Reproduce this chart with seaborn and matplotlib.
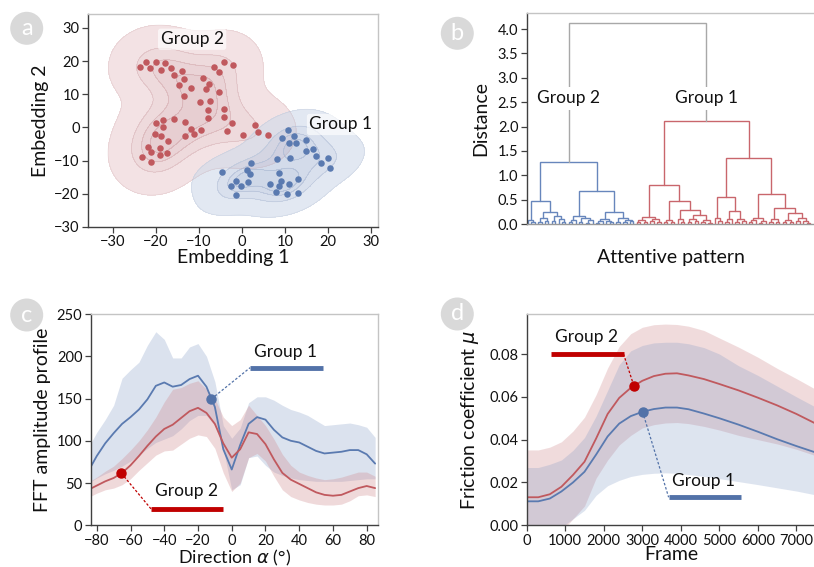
import numpy as np
import pandas as pd
import matplotlib
matplotlib.use("Agg")
import matplotlib.pyplot as plt
import seaborn as sns
from matplotlib.patches import Ellipse
from matplotlib.colors import LinearSegmentedColormap

# ---------------- data: panel a (embedding) ----------------
g2_x = [-23.8, -22.3, -21.3, -20.0, -18.8, -17.9, -16.4, -15.8, -14.7, -14.0, -13.6, -11.9, -9.0,
        -8.4, -7.6, -6.5, -5.4, -4.2, -2.1, -5.4, -13.6, -9.7, -7.5, -8.0, -7.8, -4.3, -4.3, -13.2,
        -15.8, -18.3, -19.9, -18.3, -20.3, -18.8, -17.2, -13.3, -11.8, -11.1, -9.6, -2.4, -3.4, 0.2,
        2.9, 3.6, 6.0, -21.9, -21.1, -19.0, -19.0, -17.5, -23.2, -21.1]
g2_y = [18.3, 19.6, 17.8, 19.8, 17.3, 19.4, 17.8, 15.7, 12.8, 17.0, 14.7, 12.0, 14.8,
        11.5, 13.0, 18.3, 16.7, 19.6, 18.8, 10.6, 9.4, 7.6, 8.1, 5.4, 2.8, 5.6, 3.1, 1.7,
        2.5, 2.4, 1.2, 0.0, -2.1, -2.7, -4.0, -2.5, -0.4, -2.0, -0.7, 1.2, -1.1, -2.2,
        0.7, -1.5, -2.2, -5.8, -7.5, -6.1, -8.4, -7.8, -8.8, -10.5]
g1_x = [10.7, 12.1, 9.3, 10.9, 12.6, 14.9, 16.4, 14.8, 17.3, 11.2, 8.1, 18.4, 20.0, 20.5, 2.1,
        -4.7, 1.2, 1.9, -1.4, -2.6, -0.2, 1.5, -1.3, 8.5, 9.1, 6.4, 8.6, 7.8, 10.9, 12.9, 10.5, 12.9]
g1_y = [-0.8, -2.6, -3.3, -4.8, -4.8, -3.8, -6.6, -7.2, -8.5, -9.1, -9.4, -10.8, -9.1, -12.2, -10.8,
        -13.5, -12.9, -14.0, -16.0, -17.5, -17.7, -16.5, -20.4, -13.7, -16.0, -17.0, -17.5, -19.3,
        -16.9, -15.5, -20.0, -19.8]

# ---------------- data: panel b (dendrogram, [height, left, right], 0 = leaf) ----------------
blue_tree = [1.27,
             [0.47,
              [0.08, 0, [0.04, 0, 0]],
              [0.25, [0.12, [0.05, 0, 0], [0.07, 0, 0]],
                     [0.17, [0.06, 0, 0], [0.10, 0, [0.04, 0, 0]]]]],
             [0.68,
              [0.16, [0.09, [0.04, 0, 0], 0], [0.12, [0.05, 0, 0], [0.08, [0.03, 0, 0], 0]]],
              [0.25, [0.10, [0.06, [0.03, 0, 0], 0], [0.07, 0, [0.04, 0, 0]]],
                     [0.12, [0.05, 0, 0], [0.09, [0.04, 0, 0], [0.06, 0, 0]]]]]]
red_tree = [2.12,
            [0.80,
             [0.15, [0.08, [0.04, 0, 0], [0.05, 0, 0]], [0.10, [0.06, 0, 0], [0.04, 0, 0]]],
             [0.47,
              [0.08, [0.04, 0, 0], [0.05, 0, 0]],
              [0.29, [0.10, 0, [0.05, 0, 0]],
                     [0.18, [0.10, [0.04, 0, 0], [0.06, 0, 0]], [0.08, [0.05, 0, 0], [0.03, 0, 0]]]]]],
            [1.35,
             [0.55, [0.13, 0, [0.06, 0, 0]],
                    [0.26, [0.10, [0.05, 0, 0], 0], [0.10, [0.04, 0, 0], [0.06, 0, 0]]]],
             [0.62, [0.12, [0.08, [0.04, 0, 0], 0], [0.06, [0.03, 0, 0], 0]],
                    [0.33, [0.10, [0.05, 0, 0], [0.04, 0, 0]],
                           [0.22, [0.08, [0.04, 0, 0], [0.05, 0, 0]],
                                  [0.12, [0.06, 0, 0], [0.07, 0, [0.03, 0, 0]]]]]]]]
root_height = 4.13

# ---------------- data: panel c (FFT amplitude) ----------------
direction = [-85, -80, -75, -70, -65, -60, -55, -50, -45, -40, -35, -30, -25, -20, -15, -10, -5, 0,
             5, 10, 15, 20, 25, 30, 35, 40, 45, 50, 55, 60, 65, 70, 75, 80, 85]
c_g1_mean = [64, 82, 97, 109, 120, 128, 137, 149, 165, 169, 164, 166, 173, 177, 164, 140, 90, 66,
             95, 120, 128, 125, 113, 104, 100, 98, 93, 88, 85, 86, 87, 89, 89, 84, 73]
c_g1_hi = [92, 110, 125, 142, 174, 184, 193, 213, 229, 220, 198, 198, 211, 215, 200, 170, 118, 103,
           115, 145, 152, 152, 148, 142, 137, 134, 130, 124, 118, 119, 120, 121, 119, 116, 104]
c_g1_lo = [50, 56, 61, 65, 70, 76, 83, 91, 98, 102, 106, 114, 124, 130, 130, 118, 90, 42,
           48, 80, 82, 71, 63, 59, 56, 54, 53, 52, 52, 52, 52, 53, 54, 55, 55]
c_g2_mean = [42, 47, 52, 56, 62, 71, 82, 94, 105, 114, 119, 127, 135, 139, 133, 120, 97, 80,
             90, 110, 108, 96, 78, 62, 54, 49, 44, 39, 36, 35, 36, 40, 44, 46.5, 44]
c_g2_hi = [51, 57, 64, 70, 79, 89, 100, 113, 128, 146, 161, 163, 168, 171, 161, 150, 128, 118,
           125, 142, 130, 118, 102, 84, 71, 63, 59, 56, 54, 55, 57, 60, 63, 63, 58]
c_g2_lo = [33, 38, 42, 44, 48, 55, 65, 74, 83, 88, 89, 96, 103, 107, 105, 91, 62, 40,
           50, 80, 85, 76, 58, 42, 34, 30, 27, 25, 24, 24, 25, 29, 35, 36, 34]

# ---------------- data: panel d (friction) ----------------
frame = [0, 300, 600, 900, 1200, 1500, 1800, 2100, 2400, 2700, 3000, 3300, 3600, 3900, 4200,
         4600, 5000, 5500, 6000, 6500, 7000, 7500]
d_g2_mean = [0.0131, 0.0131, 0.0145, 0.0180, 0.0235, 0.0297, 0.0405, 0.0520, 0.0595, 0.0642, 0.0675,
             0.0697, 0.0708, 0.0710, 0.0700, 0.0683, 0.0660, 0.0630, 0.0596, 0.0560, 0.0520, 0.0475]
d_g2_hi = [0.0352, 0.0352, 0.0365, 0.0390, 0.0440, 0.0505, 0.0610, 0.0735, 0.0835, 0.0895, 0.0925,
           0.0937, 0.0940, 0.0938, 0.0930, 0.0910, 0.0875, 0.0832, 0.0785, 0.0733, 0.0685, 0.0635]
d_g2_lo = [-0.0090, -0.0090, -0.0075, -0.0030, 0.0030, 0.0090, 0.0220, 0.0305, 0.0375, 0.0420, 0.0455,
           0.0470, 0.0478, 0.0480, 0.0475, 0.0462, 0.0445, 0.0420, 0.0400, 0.0380, 0.0355, 0.0325]
d_g1_mean = [0.0112, 0.0112, 0.0125, 0.0158, 0.0200, 0.0250, 0.0330, 0.0415, 0.0475, 0.0510, 0.0530,
             0.0543, 0.0550, 0.0550, 0.0542, 0.0522, 0.0500, 0.0470, 0.0437, 0.0402, 0.0370, 0.0340]
d_g1_hi = [0.0270, 0.0270, 0.0285, 0.0305, 0.0350, 0.0410, 0.0510, 0.0630, 0.0750, 0.0815, 0.0840,
           0.0852, 0.0855, 0.0855, 0.0848, 0.0830, 0.0800, 0.0745, 0.0700, 0.0650, 0.0600, 0.0552]
d_g1_lo = [-0.0046, -0.0046, -0.0035, -0.0010, 0.0030, 0.0070, 0.0140, 0.0185, 0.0210, 0.0228, 0.0238,
           0.0243, 0.0245, 0.0243, 0.0237, 0.0228, 0.0218, 0.0204, 0.0190, 0.0175, 0.0160, 0.0142]

# ---------------- style ----------------
sns.set_theme(style="ticks")
plt.rcParams['font.family'] = ['Lato', 'DejaVu Sans']
plt.rcParams['mathtext.fontset'] = 'dejavusans'

RED = "#C0595E"
BLUE = "#5A7AB0"
RED_BRIGHT = "#C00000"
BLUE_BAR = "#5272A8"
DARK = "#404040"
LIGHT = "#C4C4C4"
TXT = "#111111"

W, H = 814, 567
fig = plt.figure(figsize=(W / 100, H / 100), dpi=100)


def px_axes(left, top, right, bottom):
    return fig.add_axes([left / W, 1 - bottom / H, (right - left) / W, (bottom - top) / H])


def style_axes(ax, bottom_color=DARK):
    ax.spines['left'].set_color(DARK)
    ax.spines['bottom'].set_color(bottom_color)
    ax.spines['top'].set_color(LIGHT)
    ax.spines['right'].set_color(LIGHT)
    for s in ax.spines.values():
        s.set_linewidth(1.0)
    ax.tick_params(direction='out', length=4, width=0.9, color=DARK, labelsize=10.5,
                   labelcolor=TXT, pad=2)


def panel_letter(cx, cy, letter):
    r = 16.5
    e = Ellipse((cx / W, 1 - cy / H), 2 * r / W, 2 * r / H, transform=fig.transFigure,
                facecolor="#D9D9D9", edgecolor='none')
    fig.add_artist(e)
    fig.text(cx / W, 1 - cy / H, letter, color='white', fontsize=17, ha='center', va='center')


# ---------------- panel a ----------------
axa = px_axes(88, 14, 378, 227)
red_cmap = LinearSegmentedColormap.from_list("r", ["#F0D9DB", "#D7AEB2"])
blue_cmap = LinearSegmentedColormap.from_list("b", ["#D9E1EF", "#AFBDD8"])
for xs, ys, cm, lc in [(g2_x, g2_y, red_cmap, "#B88A8E"), (g1_x, g1_y, blue_cmap, "#8E9DB8")]:
    sns.kdeplot(x=xs, y=ys, fill=True, levels=5, thresh=0.025, bw_adjust=1.12, cmap=cm,
                alpha=0.62, ax=axa)
    sns.kdeplot(x=xs, y=ys, fill=False, levels=5, thresh=0.025, bw_adjust=1.12, colors=lc,
                alpha=0.22, linewidths=0.5, ax=axa)
sns.scatterplot(x=g2_x, y=g2_y, color=RED, s=22, linewidth=0, ax=axa, zorder=3)
sns.scatterplot(x=g1_x, y=g1_y, color=BLUE, s=22, linewidth=0, ax=axa, zorder=3)
axa.set_xlim(-35.8, 31.6)
axa.set_ylim(-30, 34.2)
axa.set_xticks(range(-30, 31, 10))
axa.set_yticks(range(-30, 31, 10))
axa.set_xlabel("Embedding 1", fontsize=14, color=TXT, labelpad=0)
axa.set_ylabel("Embedding 2", fontsize=14, color=TXT, labelpad=4)
txt_bbox = dict(boxstyle='round,pad=0.15', fc='white', ec='none', alpha=0.65)
axa.text(-11.6, 26.6, "Group 2", fontsize=12.5, ha='center', va='center', color=TXT, bbox=txt_bbox, zorder=5)
axa.text(23, 0.9, "Group 1", fontsize=12.5, ha='center', va='center', color=TXT, bbox=txt_bbox, zorder=5)
style_axes(axa)

# ---------------- panel b ----------------
axb = px_axes(526.7, 13, 815.5, 224)
segments = []
counter = [0]


def layout(node, color):
    if node == 0:
        x = counter[0]
        counter[0] += 1
        return x, 0.0
    h, left, right = node
    xl, hl = layout(left, color)
    xr, hr = layout(right, color)
    segments.append(([xl, xl, xr, xr], [hl, h, h, hr], color))
    return (xl + xr) / 2, h


xb, hb = layout(blue_tree, "#6786BC")
xr_, hr_ = layout(red_tree, "#C9666C")
segments.append(([xb, xb, xr_, xr_], [hb, root_height, root_height, hr_], "#A8A8A8"))
for xs, ys, col in segments:
    axb.plot(xs, ys, color=col, lw=1.0, solid_joinstyle='miter')
axb.set_xlim(-0.4, 84.6)
axb.set_ylim(0, 4.33)
axb.set_xticks([])
axb.set_yticks(np.arange(0, 4.01, 0.5))
axb.set_yticklabels([f"{v:.1f}" for v in np.arange(0, 4.01, 0.5)])
axb.set_xlabel("Attentive pattern", fontsize=14, color=TXT, labelpad=18)
axb.set_ylabel("Distance", fontsize=14, color=TXT, labelpad=6)
tb = dict(boxstyle='square,pad=0.2', fc='white', ec='none')
axb.text(xb, 2.58, "Group 2", fontsize=12.5, ha='center', va='center', color=TXT, bbox=tb, zorder=5)
axb.text(xr_, 2.58, "Group 1", fontsize=12.5, ha='center', va='center', color=TXT, bbox=tb, zorder=5)
style_axes(axb, bottom_color="#999999")

# ---------------- panel c ----------------
axc = px_axes(90.7, 314, 378, 525.3)
axc.fill_between(direction, c_g1_lo, c_g1_hi, color="#7F97C4", alpha=0.28, linewidth=0)
axc.fill_between(direction, c_g2_lo, c_g2_hi, color="#D08A8E", alpha=0.32, linewidth=0)
sns.lineplot(x=direction, y=c_g1_mean, color=BLUE, lw=1.3, ax=axc)
sns.lineplot(x=direction, y=c_g2_mean, color=RED, lw=1.3, ax=axc)
axc.set_xlim(-83.6, 86.7)
axc.set_ylim(0, 250)
axc.set_xticks(range(-80, 81, 20))
axc.set_yticks(range(0, 251, 50))
axc.set_xlabel("Direction $\\alpha$ (°)", fontsize=13, color=TXT, labelpad=0)
axc.set_ylabel("FFT amplitude profile", fontsize=14, color=TXT, labelpad=4)
# annotations
c1x = -12.0
c1y = float(np.interp(c1x, direction, c_g1_mean))
axc.plot([c1x, 10.9], [c1y, 186.5], ls=(0, (2, 1.5)), color=BLUE_BAR, lw=0.9)
axc.plot([10.9, 54], [186.5, 186.5], color=BLUE_BAR, lw=3.5, solid_capstyle='butt')
axc.plot([c1x], [c1y], 'o', color=BLUE_BAR, ms=6.5, zorder=5)
axc.text(31.7, 205, "Group 1", fontsize=12.5, ha='center', va='center', color=TXT)
c2x = -65.4
c2y = float(np.interp(c2x, direction, c_g2_mean))
axc.plot([c2x, -47.8], [c2y, 19.3], ls=(0, (2, 1.5)), color=RED_BRIGHT, lw=0.9)
axc.plot([-47.8, -5.3], [19.3, 19.3], color=RED_BRIGHT, lw=3.5, solid_capstyle='butt')
axc.plot([c2x], [c2y], 'o', color=RED_BRIGHT, ms=6.5, zorder=5)
axc.text(-26.6, 40, "Group 2", fontsize=12.5, ha='center', va='center', color=TXT)
style_axes(axc)

# ---------------- panel d ----------------
axd = px_axes(526.7, 314, 815.5, 525.3)
axd.fill_between(frame, d_g2_lo, d_g2_hi, color="#D08A8E", alpha=0.30, linewidth=0)
axd.fill_between(frame, d_g1_lo, d_g1_hi, color="#7F97C4", alpha=0.26, linewidth=0)
sns.lineplot(x=frame, y=d_g2_mean, color=RED, lw=1.3, ax=axd)
sns.lineplot(x=frame, y=d_g1_mean, color=BLUE, lw=1.3, ax=axd)
axd.set_xlim(0, 7494)
axd.set_ylim(0, 0.0987)
axd.set_xticks(range(0, 7001, 1000))
axd.set_yticks([0, 0.02, 0.04, 0.06, 0.08])
axd.set_yticklabels([f"{v:.2f}" for v in [0, 0.02, 0.04, 0.06, 0.08]])
axd.set_xlabel("Frame", fontsize=14, color=TXT, labelpad=-1)
axd.set_ylabel(r"Friction coefficient $\mu$", fontsize=14, color=TXT, labelpad=6)
d2x = 2782
d2y = float(np.interp(d2x, frame, d_g2_mean))
axd.plot([2513, d2x], [0.080, d2y], ls=(0, (2, 1.5)), color=RED_BRIGHT, lw=0.9)
axd.plot([633, 2513], [0.080, 0.080], color=RED_BRIGHT, lw=3.5, solid_capstyle='butt')
axd.plot([d2x], [d2y], 'o', color=RED_BRIGHT, ms=6.5, zorder=5)
axd.text(1560, 0.0881, "Group 2", fontsize=12.5, ha='center', va='center', color=TXT)
d1x = 3007
d1y = float(np.interp(d1x, frame, d_g1_mean))
axd.plot([d1x, 3683], [d1y, 0.0131], ls=(0, (2, 1.5)), color=BLUE_BAR, lw=0.9)
axd.plot([3683, 5563], [0.0131, 0.0131], color=BLUE_BAR, lw=3.5, solid_capstyle='butt')
axd.plot([d1x], [d1y], 'o', color=BLUE_BAR, ms=6.5, zorder=5)
axd.text(4593, 0.0209, "Group 1", fontsize=12.5, ha='center', va='center', color=TXT)
style_axes(axd)

# panel letters
panel_letter(26.7, 28.3, "a")
panel_letter(457.3, 33.3, "b")
panel_letter(26.7, 315, "c")
panel_letter(457.3, 314, "d")

fig.savefig("out.png", dpi=100)
